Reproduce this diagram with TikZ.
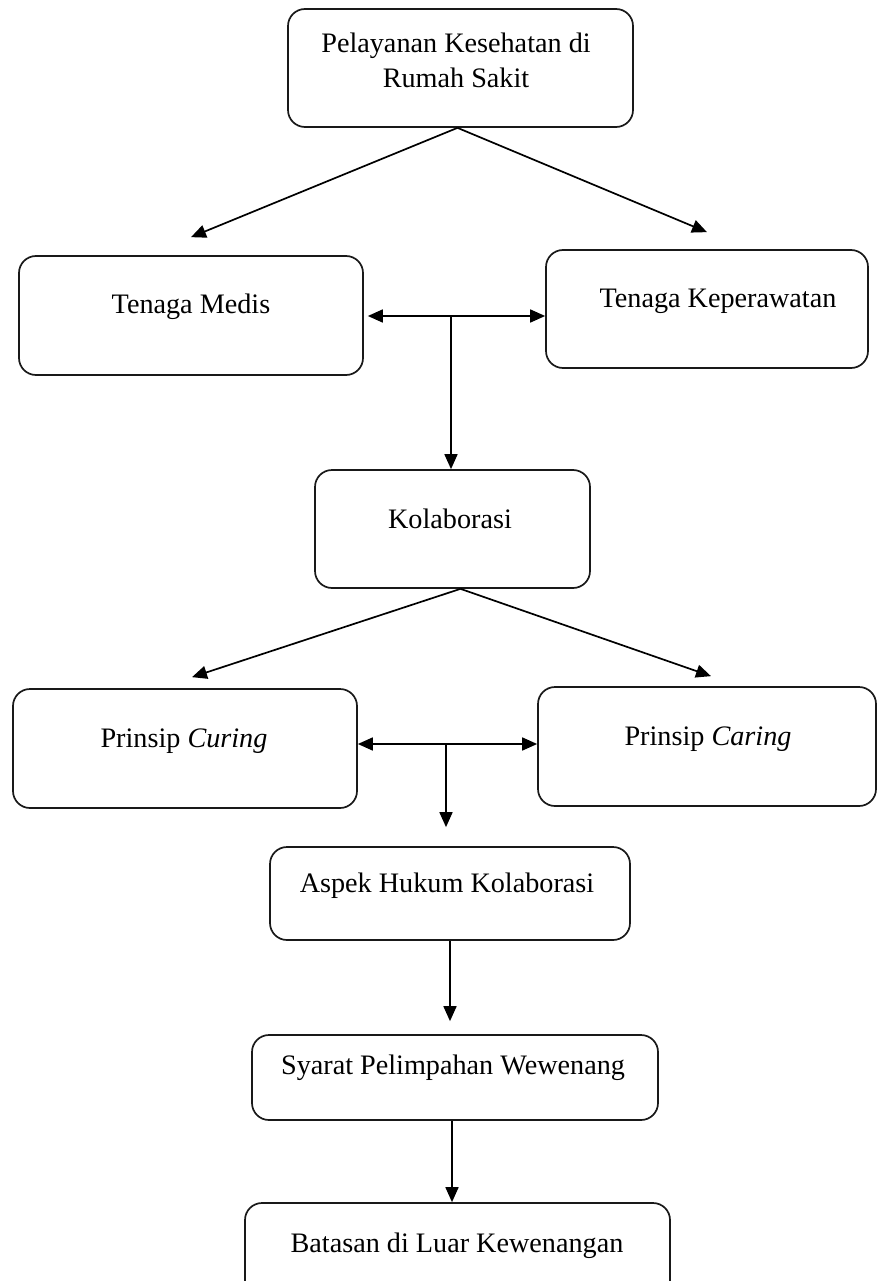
\documentclass[tikz,border=0pt]{standalone}
\usepackage{fontspec}
\setmainfont{Liberation Serif}
\usetikzlibrary{arrows.meta,calc}
\tikzset{
  box/.style={draw=black!90, line width=1.7pt, rounded corners=17pt, inner sep=0pt, fill=none},
  txt/.style={anchor=base, inner sep=0pt, font=\fontsize{28.2}{34}\selectfont},
  tip/.style={Triangle[length=15pt,width=13pt]},
  arr/.style={line width=1.7pt, -{Triangle[length=15pt,width=13pt]}},
  darr/.style={line width=1.7pt, {Triangle[length=15pt,width=13pt]}-{Triangle[length=15pt,width=13pt]}}
}
\begin{document}
\begin{tikzpicture}[x=1pt,y=-1pt]
\useasboundingbox (0,0) rectangle (878,1281);
\clip (0,0) rectangle (878,1281);
\fill[white] (0,0) rectangle (878,1281);
% boxes
\node[box, minimum width=345pt, minimum height=118pt] (top) at (460.5,68) {};
\node[box, minimum width=344pt, minimum height=119pt] (med) at (191,315.5) {};
\node[box, minimum width=322pt, minimum height=118pt] (kep) at (707,309) {};
\node[box, minimum width=275pt, minimum height=118pt] (kol) at (452.5,529) {};
\node[box, minimum width=344pt, minimum height=119pt] (cur) at (185,748.5) {};
\node[box, minimum width=338pt, minimum height=119pt] (car) at (707,746.5) {};
\node[box, minimum width=360pt, minimum height=93pt] (asp) at (450,893.5) {};
\node[box, minimum width=406pt, minimum height=85pt] (sya) at (455,1077.5) {};
\node[box, minimum width=425pt, minimum height=97pt] (bat) at (457.5,1251.5) {};
% texts
\node[txt] (t1a) at (456,53) {Pelayanan Kesehatan di};
\node[txt] (t1b) at (456,88) {Rumah Sakit};
\node[txt] (t2) at (191,313) {Tenaga Medis};
\node[txt] (t3) at (718,307) {Tenaga Keperawatan};
\node[txt] (t4) at (450,528) {Kolaborasi};
\node[txt] (t5) at (184,747) {Prinsip \textit{Curing}};
\node[txt] (t6) at (708,745) {Prinsip \textit{Caring}};
\node[txt] (t7) at (447,892) {Aspek Hukum Kolaborasi};
\node[txt] (t8) at (453,1074) {Syarat Pelimpahan Wewenang};
\node[txt] (t9) at (457,1252) {Batasan di Luar Kewenangan};
% junction coordinates
\coordinate (j1) at (451,316);
\coordinate (j2) at (446,744);
% connectors
\draw[arr] ([xshift=-3pt]top.south) -- ([yshift=18pt]med.north);
\draw[arr] ([xshift=-3pt]top.south) -- ([yshift=17pt]kep.north);
\draw[darr] ([xshift=4pt]j1 -| med.east) -- (j1 -| kep.west);
\draw[arr] (j1) -- (j1 |- kol.north);
\draw[arr] ([xshift=8pt]kol.south) -- ([xshift=7pt,yshift=11pt]cur.north);
\draw[arr] ([xshift=8pt]kol.south) -- ([xshift=4pt,yshift=10pt]car.north);
\draw[darr] (j2 -| cur.east) -- (j2 -| car.west);
\draw[arr] (j2) -- ([yshift=19pt]j2 |- asp.north);
\draw[arr] (asp.south) -- ([yshift=13pt]asp.south |- sya.north);
\draw[arr] ([xshift=-3pt]sya.south) -- ([xshift=-3pt]sya.south |- bat.north);
\end{tikzpicture}
\end{document}
